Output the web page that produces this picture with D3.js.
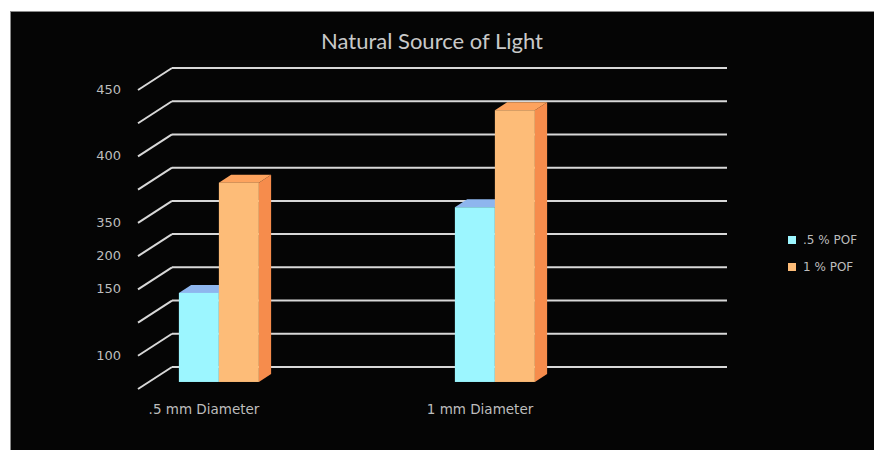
<!DOCTYPE html>
<html>
<head>
<meta charset="utf-8">
<script src="https://cdn.jsdelivr.net/npm/d3@7"></script>
<style>
  html, body { margin: 0; padding: 0; background: #ffffff; }
  svg { display: block; }
</style>
</head>
<body>
<svg id="chart" width="874" height="450"></svg>
<script>
// Chart data
const categories = [".5 mm Diameter", "1 mm Diameter"];
const seriesNames = [".5 % POF", "1 % POF"];
const pof05 = [134, 263];
const pof1 = [300, 409];
const gridValues = [0, 50, 100, 150, 200, 250, 300, 350, 400, 450];
const tickValues = [450, 350, 250, 200, 150, 50];
const tickLabels = ["450", "400", "350", "200", "150", "100"];

const seriesValues = [pof05, pof1];
const colors = [
  { front: "#9CF6FF", top: "#8EB6EE", side: "#6FC6E0" },
  { front: "#FDBC78", top: "#FDA35E", side: "#F68C4C" }
];

const svg = d3.select("#chart");
const W = 874, H = 450;

// Panel
svg.append("rect")
  .attr("x", 10.5).attr("y", 11.5)
  .attr("width", W - 10).attr("height", H - 11)
  .attr("fill", "#050505")
  .attr("stroke", "#8a8a8a").attr("stroke-width", 1);

// Title
svg.append("text")
  .attr("x", 432).attr("y", 49)
  .attr("text-anchor", "middle")
  .attr("font-family", "Lato, 'Open Sans', sans-serif")
  .attr("font-size", 22)
  .attr("fill", "#c9c9c9")
  .text("Natural Source of Light");

// 3D layout: back wall, depth vector toward the viewer
const wallLeft = 172, wallRight = 727;
const y = d3.scaleLinear().domain([0, 450]).range([367, 68]);
const depth = { dx: -34, dy: 22 };           // back wall -> front edge of floor
const frontF = 0.68, backF = 0.32;             // bar faces as depth fractions

const x0 = d3.scaleBand().domain(categories).range([104, 656]);
const x1 = d3.scaleBand().domain(seriesNames).range([-40, 40]);

// Gridlines on the back wall plus side wall diagonals
const grid = svg.append("g");
gridValues.forEach(v => {
  grid.append("line")
    .attr("x1", wallLeft).attr("x2", wallRight)
    .attr("y1", y(v)).attr("y2", y(v))
    .attr("stroke", "#d8d8d8").attr("stroke-width", 2);
  grid.append("line")
    .attr("x1", wallLeft + depth.dx).attr("y1", y(v) + depth.dy)
    .attr("x2", wallLeft).attr("y2", y(v))
    .attr("stroke", "#d8d8d8").attr("stroke-width", 2);
});

// Value labels
tickValues.forEach((v, i) => {
  svg.append("text")
    .attr("x", 121).attr("y", y(v) + depth.dy + 4)
    .attr("text-anchor", "end")
    .attr("font-family", "'DejaVu Sans', sans-serif")
    .attr("font-size", 13)
    .attr("fill", "#bdbdbd")
    .text(tickLabels[i]);
});

// Bars as extruded boxes
const fdx = depth.dx * frontF, fdy = depth.dy * frontF;
const bdx = depth.dx * backF, bdy = depth.dy * backF;
const ox = bdx - fdx, oy = bdy - fdy;  // front face -> back face offset

const bars = svg.append("g");
categories.forEach((c, ci) => {
  seriesNames.forEach((s, si) => {
    const v = seriesValues[si][ci];
    const xl = x0(c) + x0.bandwidth() / 2 + x1(s) + fdx;
    const xr = xl + x1.bandwidth();
    const yt = y(v) + fdy;
    const yb = y(0) + fdy;
    const col = colors[si];
    // side face
    bars.append("path")
      .attr("d", `M${xr},${yt} L${xr + ox},${yt + oy} L${xr + ox},${yb + oy} L${xr},${yb} Z`)
      .attr("fill", col.side);
    // top face
    bars.append("path")
      .attr("d", `M${xl},${yt} L${xl + ox},${yt + oy} L${xr + ox},${yt + oy} L${xr},${yt} Z`)
      .attr("fill", col.top);
    // front face
    bars.append("rect")
      .attr("x", xl).attr("y", yt)
      .attr("width", xr - xl).attr("height", yb - yt)
      .attr("fill", col.front);
  });
});

// Category labels
categories.forEach(c => {
  svg.append("text")
    .attr("x", x0(c) + x0.bandwidth() / 2 + depth.dx - 4)
    .attr("y", 414)
    .attr("text-anchor", "middle")
    .attr("font-family", "'DejaVu Sans', sans-serif")
    .attr("font-size", 13.5)
    .attr("fill", "#bdbdbd")
    .text(c);
});

// Legend
const legend = svg.append("g").attr("transform", "translate(788,236)");
seriesNames.forEach((s, i) => {
  const g = legend.append("g").attr("transform", `translate(0,${i * 27})`);
  g.append("rect").attr("width", 8).attr("height", 8).attr("fill", colors[i].front);
  g.append("text")
    .attr("x", 15).attr("y", 8)
    .attr("font-family", "'DejaVu Sans', sans-serif")
    .attr("font-size", 12)
    .attr("fill", "#bdbdbd")
    .text(s);
});
</script>
</body>
</html>
